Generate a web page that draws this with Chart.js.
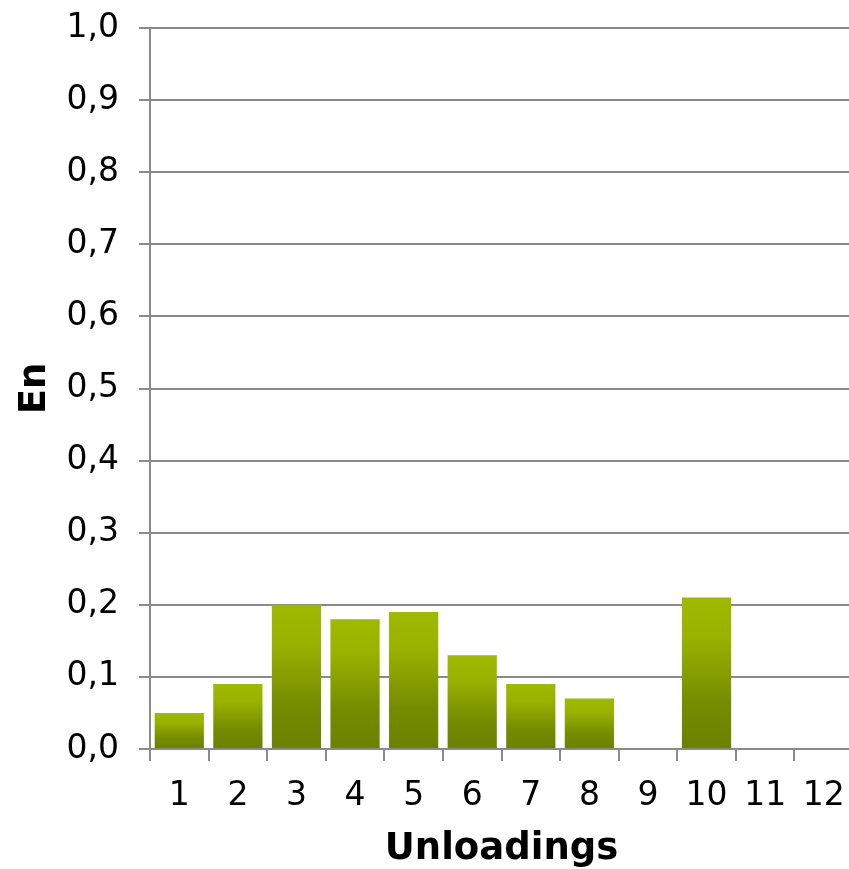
<!DOCTYPE html>
<html>
<head>
<meta charset="utf-8">
<title>Unloadings – En</title>
<script src="https://cdn.jsdelivr.net/npm/chart.js@4.4.1/dist/chart.umd.min.js"></script>
<style>
  html, body { margin: 0; padding: 0; background: #ffffff; overflow: hidden; }
  #wrap { position: relative; width: 853px; height: 869px; }
</style>
</head>
<body>
<div id="wrap"><canvas id="chart"></canvas></div>
<script>
// Unloading numbers along the x axis
const unloadings = ['1', '2', '3', '4', '5', '6', '7', '8', '9', '10', '11', '12'];
// En value per unloading (no result for 9, 11 and 12)
const enValues = [0.05, 0.09, 0.20, 0.18, 0.19, 0.13, 0.09, 0.07, null, 0.21, null, null];
// Y axis range and step
const yMin = 0;
const yMax = 1.0;
const yStep = 0.1;

const FONT = "'DejaVu Sans', Verdana, sans-serif";
const GRID = '#8a8a8a';

// vertical olive gradient fitted to each bar
function barFill(ctx) {
  const chart = ctx.chart;
  const yScale = chart.scales.y;
  if (!chart.chartArea || !yScale || !ctx.parsed || ctx.parsed.y == null) return '#9ab600';
  const top = yScale.getPixelForValue(ctx.parsed.y);
  const base = yScale.getPixelForValue(0);
  if (base - top < 1) return '#9ab600';
  const g = chart.ctx.createLinearGradient(0, top, 0, base);
  g.addColorStop(0, '#9db900');
  g.addColorStop(0.25, '#99b400');
  g.addColorStop(0.7, '#758c00');
  g.addColorStop(1, '#6c8000');
  return g;
}

new Chart(document.getElementById('chart'), {
  type: 'bar',
  data: {
    labels: unloadings,
    datasets: [{
      label: 'En',
      data: enValues,
      backgroundColor: barFill,
      borderWidth: 0,
      categoryPercentage: 1.0,
      barPercentage: 0.84
    }]
  },
  options: {
    responsive: true,
    maintainAspectRatio: false,
    animation: false,
    layout: { padding: { top: 28, right: 0, bottom: 0, left: 0 } },
    plugins: {
      legend: { display: false },
      tooltip: { enabled: false }
    },
    scales: {
      x: {
        offset: true,
        grid: {
          display: true,
          offset: true,
          drawOnChartArea: false,
          drawTicks: true,
          tickLength: 12,
          color: GRID,
          lineWidth: 2
        },
        border: { display: true, color: GRID, width: 2 },
        ticks: {
          color: '#000000',
          padding: 16,
          maxRotation: 0,
          autoSkip: false,
          font: { family: FONT, size: 33 }
        },
        title: {
          display: true,
          text: 'Unloadings',
          color: '#000000',
          padding: { top: 0, bottom: -3 },
          font: { family: FONT, size: 37, weight: 'bold' }
        },
        afterFit(scale) {
          scale.height = 120;
          scale.paddingLeft = 0;
          scale.paddingRight = 0;
        }
      },
      y: {
        min: yMin,
        max: yMax,
        grid: {
          color: GRID,
          lineWidth: 2,
          drawTicks: true,
          tickLength: 11
        },
        border: { display: true, color: GRID, width: 2 },
        ticks: {
          stepSize: yStep,
          color: '#000000',
          padding: 20,
          font: { family: FONT, size: 33 },
          callback: (v) => Number(v).toFixed(1).replace('.', ',')
        },
        title: {
          display: true,
          text: 'En',
          color: '#000000',
          padding: { top: 13, bottom: 13 },
          font: { family: FONT, size: 37, weight: 'bold' }
        },
        afterFit(scale) {
          scale.width = 150;
          scale.paddingTop = 0;
          scale.paddingBottom = 0;
        }
      }
    }
  }
});
</script>
</body>
</html>
